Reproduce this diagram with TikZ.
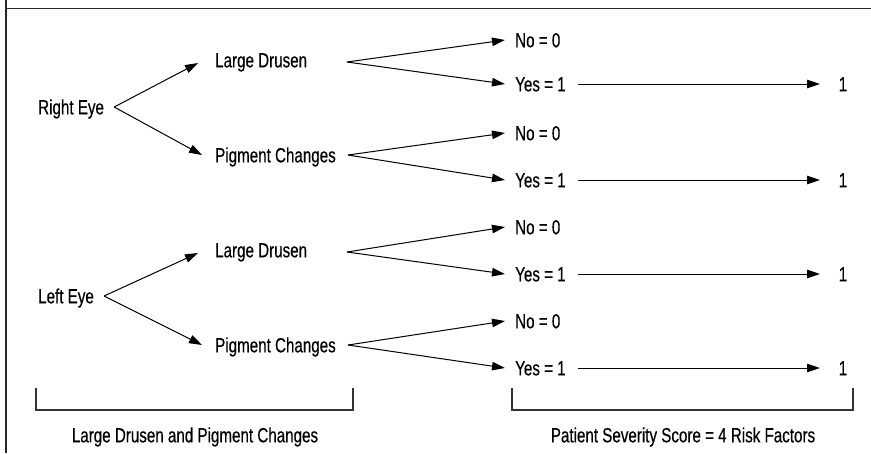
\documentclass[tikz,border=0pt]{standalone}
\usepackage{fontspec}
\setmainfont{Liberation Sans}[FakeStretch=0.74,FakeBold=0.4]
\usetikzlibrary{arrows.meta,calc}
\begin{document}
\begin{tikzpicture}[x=1pt,y=-1pt,
  lbl/.style={font=\fontsize{20.5}{24}\selectfont, inner sep=0pt, text height=14.6pt, text depth=0pt, anchor=west},
  num/.style={lbl, anchor=center},
  arr/.style={draw=black, line width=1pt, -{Triangle[length=13pt,width=8.5pt]}},
  brk/.style={draw=black!80, line width=1.2pt},
  frame/.style={draw=black!85, line width=1.5pt}]
\useasboundingbox (0,0) rectangle (871,453);
% frame
\draw[frame] (6,0) -- (6,453);
\draw[frame] (6,8.5) -- (871,8.5);
% eyes
\node[lbl] (re) at (38,107) {Right Eye};
\node[lbl] (le) at (38,296) {Left Eye};
% features
\node[lbl] (ld1) at (215,60) {Large Drusen};
\node[lbl] (pc1) at (215,155) {Pigment Changes};
\node[lbl] (ld2) at (215,250) {Large Drusen};
\node[lbl] (pc2) at (215,345) {Pigment Changes};
% answers
\node[lbl] (n1) at (515,40) {No = 0};
\node[lbl] (y1) at (515,84) {Yes = 1};
\node[lbl] (n2) at (515,133) {No = 0};
\node[lbl] (y2) at (515,180) {Yes = 1};
\node[lbl] (n3) at (515,227) {No = 0};
\node[lbl] (y3) at (515,274) {Yes = 1};
\node[lbl] (n4) at (515,321) {No = 0};
\node[lbl] (y4) at (515,368) {Yes = 1};
% scores
\node[num] (o1) at (843,84) {1};
\node[num] (o2) at (843,180) {1};
\node[num] (o3) at (843,274) {1};
\node[num] (o4) at (843,368) {1};
% eye arrows
\draw[arr] ($(re.east)+(10,0)$) -- ($(ld1.west)+(-17,3)$);
\draw[arr] ($(re.east)+(10,0)$) -- ($(pc1.west)+(-13,0)$);
\draw[arr] ($(le.east)+(10,0)$) -- ($(ld2.west)+(-17,3)$);
\draw[arr] ($(le.east)+(10,0)$) -- ($(pc2.west)+(-13,0)$);
% feature forks
\draw[arr] ($(ld1.west)+(132,2)$) -- ($(n1.west)+(-10,0)$);
\draw[arr] ($(ld1.west)+(132,2)$) -- ($(y1.west)+(-10,0)$);
\draw[arr] ($(pc1.west)+(133,0)$) -- ($(n2.west)+(-10,0)$);
\draw[arr] ($(pc1.west)+(133,0)$) -- ($(y2.west)+(-10,0)$);
\draw[arr] ($(ld2.west)+(132,2)$) -- ($(n3.west)+(-10,0)$);
\draw[arr] ($(ld2.west)+(132,2)$) -- ($(y3.west)+(-10,0)$);
\draw[arr] ($(pc2.west)+(133,0)$) -- ($(n4.west)+(-10,0)$);
\draw[arr] ($(pc2.west)+(133,0)$) -- ($(y4.west)+(-10,0)$);
% score arrows
\draw[arr] ($(y1.west)+(63,0)$) -- ($(o1.center)+(-23,0)$);
\draw[arr] ($(y2.west)+(63,0)$) -- ($(o2.center)+(-23,0)$);
\draw[arr] ($(y3.west)+(63,0)$) -- ($(o3.center)+(-23,0)$);
\draw[arr] ($(y4.west)+(63,0)$) -- ($(o4.center)+(-23,0)$);
% brackets
\draw[brk] (36,388) -- (36,410) -- (353,410) -- (353,388);
\draw[brk] (512,388) -- (512,410) -- (853,410) -- (853,388);
\node[num] (lb1) at (195,435) {Large Drusen and Pigment Changes};
\node[num] (lb2) at (683,435) {Patient Severity Score = 4 Risk Factors};
\end{tikzpicture}
\end{document}
